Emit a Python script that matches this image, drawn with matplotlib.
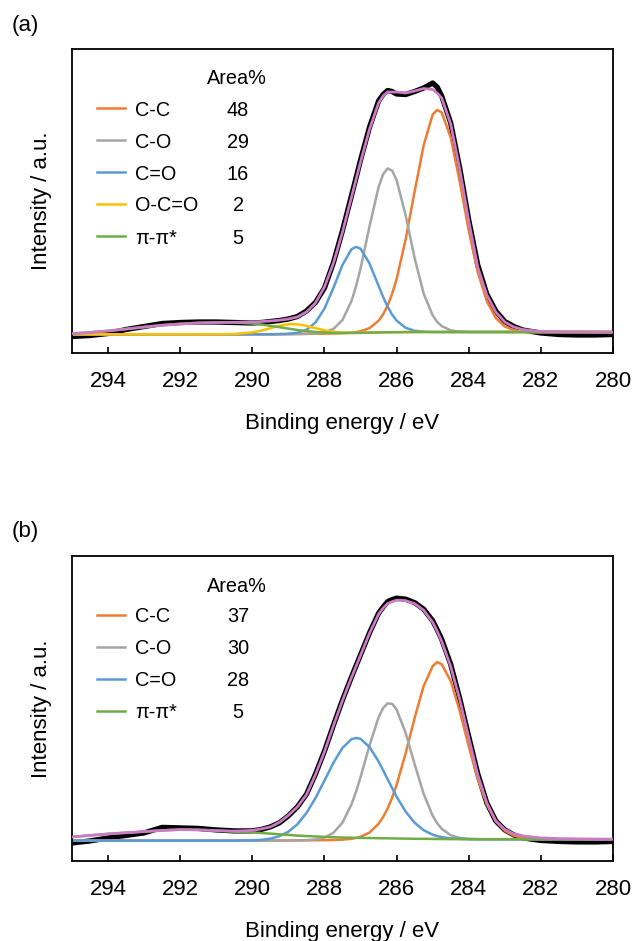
import matplotlib
matplotlib.use('Agg')
import matplotlib.pyplot as plt
import numpy as np

plt.rcParams['font.family'] = ['Liberation Sans', 'DejaVu Sans']

# binding energy grid (eV)
energy = [295.0, 294.5, 294.0, 293.5, 293.0, 292.5, 292.0, 291.5, 291.0, 290.5, 290.0,
          289.75, 289.5, 289.25, 289.0, 288.75, 288.5, 288.25, 288.0, 287.75, 287.5,
          287.25, 287.125, 287.0, 286.75, 286.5, 286.375, 286.25, 286.125, 286.0, 285.75,
          285.5, 285.25, 285.0, 284.875,
          284.75, 284.5, 284.25, 284.0, 283.75, 283.5, 283.25, 283.0, 282.75, 282.5,
          282.0, 281.5, 281.0, 280.5, 280.0]

# ---- panel (a) ----
bg_a = [18.7, 18.7, 18.7, 18.7, 18.7, 18.7, 18.7, 18.7, 18.7, 18.7, 18.7,
        18.7, 18.7, 18.8, 18.9, 19.0, 19.1, 19.25, 19.4, 19.6, 19.8,
        20.0, 20.1, 20.2, 20.4, 20.55, 20.62, 20.7, 20.75, 20.8, 20.9,
        20.95, 21.0, 21.0, 21.0,
        21.0, 21.0, 21.0, 21.0, 21.0, 21.0, 21.0, 21.0, 21.0, 21.0,
        21.0, 21.0, 21.0, 21.0, 21.0]
cc_a = [0, 0, 0, 0, 0, 0, 0, 0, 0, 0, 0,
        0, 0, 0, 0, 0, 0, 0, 0, 0, 0,
        0.4, 0.8, 1.5, 4.5, 11.7, 18.0, 26.7, 38.3, 53.1, 92.5,
        140.6, 186.7, 217.5, 222.0,
        219.6, 194.5, 150.5, 101.7, 60.0, 30.9, 13.9, 5.5, 1.9, 0.6,
        0, 0, 0, 0, 0]
co_a = [0, 0, 0, 0, 0, 0, 0, 0, 0, 0, 0,
        0, 0, 0, 0, 0, 0.1, 0.3, 1.3, 4.5, 13.2,
        32.1, 46.5, 64.3, 106.4, 145.3, 158.1, 163.8, 161.7, 152.2, 116.8,
        73.9, 38.5, 16.6, 10.2,
        5.9, 1.7, 0.4, 0.1, 0, 0, 0, 0, 0, 0,
        0, 0, 0, 0, 0]
cdo_a = [0, 0, 0, 0, 0, 0, 0, 0, 0, 0, 0,
         0, 0, 0.1, 0.3, 1.2, 4.1, 11.2, 25.0, 45.7, 68.3,
         83.8, 86.0, 84.2, 69.1, 46.6, 35.5, 25.7, 17.7, 11.6, 4.3,
         1.3, 0.3, 0, 0,
         0, 0, 0, 0, 0, 0, 0, 0, 0, 0,
         0, 0, 0, 0, 0]
oco_a = [0, 0, 0, 0, 0, 0, 0, 0, 0, 0.3, 1.9,
         3.7, 6.1, 8.4, 9.9, 9.7, 8.0, 5.6, 3.2, 1.6, 0.7,
         0.2, 0.1, 0, 0, 0, 0, 0, 0, 0, 0,
         0, 0, 0, 0,
         0, 0, 0, 0, 0, 0, 0, 0, 0, 0,
         0, 0, 0, 0, 0]
pi_a = [0.5, 2.0, 3.5, 5.3, 7.2, 9.0, 10.5, 11.5, 12.0, 11.8, 10.8,
        9.8, 8.5, 7.0, 5.5, 4.0, 2.8, 1.8, 1.0, 0.5, 0.2,
        0, 0, 0, 0, 0, 0, 0, 0, 0, 0,
        0, 0, 0, 0,
        0, 0, 0, 0, 0, 0, 0, 0, 0, 0,
        0, 0, 0, 0, 0]
env_a = [19.5, 20.5, 22.0, 24.0, 26.0, 27.8, 29.0, 30.0, 30.5, 30.7, 31.0,
         31.5, 32.0, 32.8, 34.0, 36.0, 41.0, 50.0, 66.0, 90.0, 121.0,
         156.0, 173.5, 191.0, 224.0, 250.0, 257.0, 261.0, 261.0, 261.0, 260.0,
         262.0, 264.5, 263.5, 260.0,
         255.0, 229.0, 184.0, 132.0, 86.0, 58.0, 41.0, 31.0, 26.0, 23.5,
         21.5, 21.2, 21.0, 20.8, 20.7]
raw_a = [16.5, 17.5, 19.5, 23.5, 26.5, 29.5, 30.5, 31.0, 31.0, 30.5, 30.0,
         30.5, 31.5, 32.5, 34.0, 36.5, 42.0, 50.5, 65.0, 90.5, 122.5,
         157.5, 175.0, 193.0, 226.0, 252.0, 258.5, 262.5, 261.5, 259.0, 258.5,
         261.5, 265.0, 270.0, 266.0,
         257.0, 230.0, 185.0, 133.0, 88.0, 59.0, 42.0, 31.5, 26.5, 23.0,
         20.0, 18.5, 18.0, 18.0, 18.5]
names_a = ['C-C', 'C-O', 'C=O', 'O-C=O', 'π-π*']
area_a = [48, 29, 16, 2, 5]

# ---- panel (b) ----
bg_b = [20.3, 20.3, 20.3, 20.3, 20.3, 20.3, 20.3, 20.3, 20.3, 20.3, 20.3,
        20.3, 20.3, 20.35, 20.4, 20.5, 20.6, 20.7, 20.8, 20.9, 21.0,
        21.1, 21.15, 21.2, 21.3, 21.4, 21.45, 21.5, 21.52, 21.55, 21.6,
        21.65, 21.7, 21.7, 21.7,
        21.7, 21.7, 21.7, 21.7, 21.7, 21.7, 21.7, 21.7, 21.7, 21.7,
        21.7, 21.7, 21.7, 21.7, 21.7]
cc_b = [0, 0, 0, 0, 0, 0, 0, 0, 0, 0, 0,
        0, 0, 0, 0, 0, 0, 0, 0, 0, 0.3,
        1.1, 1.8, 2.9, 7.1, 15.7, 22.3, 30.8, 41.5, 54.3, 85.7,
        120.9, 152.7, 172.5, 176.5,
        174.4, 157.8, 127.8, 92.6, 60.0, 34.8, 18.1, 8.4, 3.5, 1.3,
        0.1, 0, 0, 0, 0]
co_b = [0, 0, 0, 0, 0, 0, 0, 0, 0, 0, 0,
        0, 0, 0, 0, 0, 0.2, 0.8, 2.6, 7.2, 17.3,
        35.4, 47.9, 62.3, 94.0, 121.8, 131.0, 135.6, 135.1, 129.5, 106.2,
        74.8, 45.2, 23.4, 15.9,
        10.4, 4.0, 1.3, 0.4, 0.1, 0, 0, 0, 0, 0,
        0, 0, 0, 0, 0]
cdo_b = [0, 0, 0, 0, 0, 0, 0, 0, 0, 0, 0.3,
         0.8, 2.0, 4.4, 8.8, 16.1, 27.2, 42.0, 59.4, 77.1, 91.8,
         100.3, 101.5, 100.5, 92.3, 77.8, 69.1, 60.1, 51.2, 42.6, 27.7,
         16.5, 9.0, 4.5, 3.1,
         2.1, 0.9, 0.3, 0.1, 0, 0, 0, 0, 0, 0,
         0, 0, 0, 0, 0]
pi_b = [3.7, 5.2, 6.7, 7.9, 9.0, 10.2, 11.0, 10.8, 10.0, 8.9, 8.2,
        7.6, 7.0, 6.3, 5.6, 4.8, 4.3, 3.8, 3.2, 2.8, 2.4,
        2.1, 1.95, 1.8, 1.6, 1.3, 1.2, 1.1, 1.0, 0.9, 0.7,
        0.5, 0.4, 0.3, 0.25,
        0.2, 0.1, 0.1, 0, 0, 0, 0, 0, 0, 0,
        0, 0, 0, 0, 0]
env_b = [24.0, 25.5, 27.0, 28.2, 29.3, 30.5, 31.3, 31.0, 30.3, 29.8, 30.5,
         32.0, 34.0, 38.5, 45.5, 54.0, 66.0, 86.0, 109.0, 135.0, 160.0,
         183.0, 194.0, 205.0, 227.0, 246.0, 252.0, 256.5, 258.5, 260.0, 259.5,
         256.5, 250.0, 238.0, 229.0,
         219.0, 194.0, 161.0, 123.0, 86.0, 58.0, 40.0, 31.5, 27.0, 25.0,
         23.0, 22.3, 22.0, 21.8, 21.7]
raw_b = [18.0, 20.0, 23.0, 25.5, 28.0, 33.5, 33.0, 32.5, 31.0, 30.0, 30.0,
         31.5, 34.0, 38.0, 45.0, 54.0, 66.5, 86.5, 109.5, 135.5, 160.5,
         183.5, 194.5, 205.5, 227.5, 247.0, 253.0, 258.5, 260.5, 262.0, 261.0,
         257.5, 251.0, 239.5, 230.5,
         221.0, 196.0, 162.0, 124.0, 87.0, 58.0, 40.0, 31.0, 26.0, 23.0,
         20.5, 19.5, 19.0, 19.0, 19.5]
names_b = ['C-C', 'C-O', 'C=O', 'π-π*']
area_b = [37, 30, 28, 5]

colors = {'C-C': '#ED7D31', 'C-O': '#A5A5A5', 'C=O': '#5B9BD5',
          'O-C=O': '#FFC000', 'π-π*': '#70AD47'}
env_color = '#CB7AC5'

W, H = 635, 941
fig = plt.figure(figsize=(W / 100, H / 100), dpi=100)


def draw_panel(rect, tag, comps, names, areas, bg, env, raw):
    left, top, right, bottom = rect
    ax = fig.add_axes([left / W, 1 - bottom / H, (right - left) / W, (bottom - top) / H])
    e = np.array(energy)
    base = np.array(bg)
    ax.plot(e, raw, color='black', lw=3.8, solid_joinstyle='round', zorder=1)
    for name, y in zip(names, comps):
        ax.plot(e, base + np.array(y), color=colors[name], lw=1.8,
                solid_joinstyle='round', zorder=2)
    ax.plot(e, env, color=env_color, lw=2.0, solid_joinstyle='round', zorder=3)

    ax.set_xlim(295, 280)
    ax.set_ylim(0, 304)
    ax.set_xticks(np.arange(294, 279, -2))
    ax.set_yticks([])
    ax.tick_params(axis='x', direction='in', length=4, width=1.2, labelsize=16, pad=13)
    for sp in ax.spines.values():
        sp.set_linewidth(1.3)
    ax.set_xlabel('Binding energy / eV', fontsize=16, labelpad=15)
    fig.text(41 / W, 1 - (top + bottom) / 2 / H, 'Intensity / a.u.', rotation=90,
             ha='center', va='center', fontsize=16)
    fig.text(12 / W, 1 - (top - 24) / H, tag, ha='left', va='center', fontsize=16)

    # area table legend
    aw, ah = right - left, bottom - top
    ax.text((237 - left) / aw, 1 - 28 / ah, 'Area%', transform=ax.transAxes,
            ha='center', va='center_baseline', fontsize=14.3)
    for k, (name, val) in enumerate(zip(names, areas)):
        yy = 1 - (59 + 32 * k) / ah
        ax.plot([(97 - left) / aw, (125 - left) / aw], [yy, yy], color=colors[name],
                lw=1.8, transform=ax.transAxes)
        ax.text((135 - left) / aw, yy, name, transform=ax.transAxes,
                ha='left', va='center_baseline', fontsize=14.3)
        ax.text((238 - left) / aw, yy, str(val), transform=ax.transAxes,
                ha='center', va='center_baseline', fontsize=14.3)
    return ax


draw_panel((72, 49, 613, 353), '(a)', [cc_a, co_a, cdo_a, oco_a, pi_a],
           names_a, area_a, bg_a, env_a, raw_a)
draw_panel((72, 556, 613, 861), '(b)', [cc_b, co_b, cdo_b, pi_b],
           names_b, area_b, bg_b, env_b, raw_b)

fig.savefig('out.png', dpi=100)
